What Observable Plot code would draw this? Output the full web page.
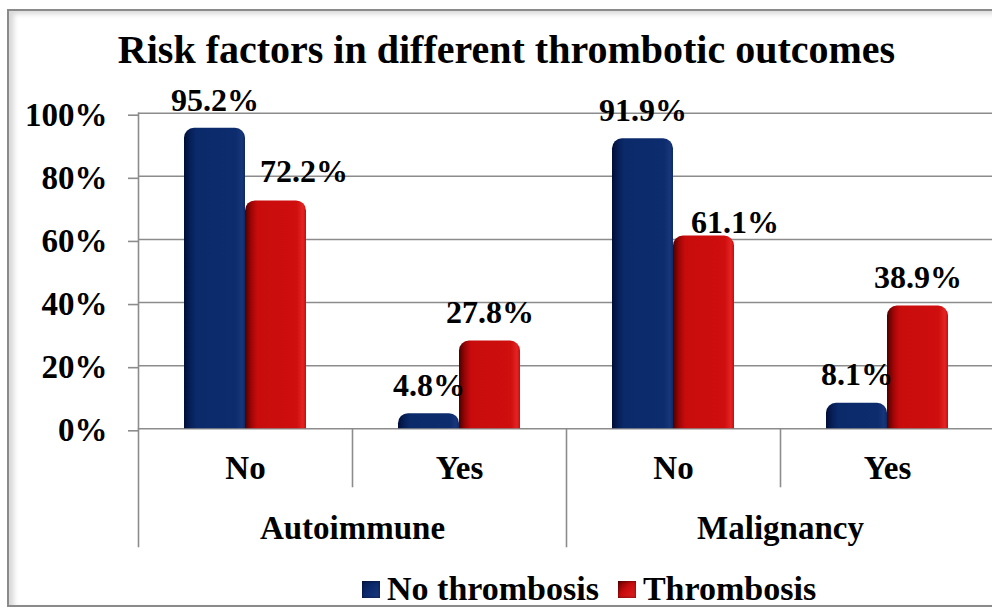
<!DOCTYPE html>
<html><head><meta charset="utf-8">
<script src="https://cdn.jsdelivr.net/npm/d3@7"></script>
<script src="https://cdn.jsdelivr.net/npm/@observablehq/plot@0.6"></script>
<style>
html,body{margin:0;padding:0;background:#fff;}
body{width:992px;height:609px;position:relative;overflow:hidden;font-family:"Liberation Serif",serif;font-weight:bold;color:#000;}
#frame{position:absolute;left:7px;top:9px;width:1010px;height:594px;border:2px solid #8a8a8a;box-shadow:inset 5px 3px 5px rgba(0,0,0,0.15);}
#title{position:absolute;top:30px;left:0;width:1013px;text-align:center;font-size:40px;line-height:40px;white-space:nowrap;}
#chart{position:absolute;left:0;top:80px;}
#legend{position:absolute;left:362px;top:572px;display:flex;align-items:center;font-size:34px;line-height:34px;white-space:nowrap;}
.sw{width:18px;height:17px;display:inline-block;margin-right:7px;}
.sw.b{background:linear-gradient(135deg,#021a4f 0%,#0c2a6b 45%,#1b3a80 100%);box-shadow:inset 0 0 3px rgba(0,0,0,0.6);}
.sw.r{background:linear-gradient(135deg,#6a0000 0%,#c80c0c 45%,#e02222 100%);box-shadow:inset 0 0 3px rgba(0,0,0,0.6);}
</style></head><body>
<div id="frame"></div>
<div id="title">Risk factors in different thrombotic outcomes</div>
<div id="chart"></div>
<div id="legend"><span class="sw b"></span><span style="margin-right:19px">No thrombosis</span><span class="sw r"></span><span>Thrombosis</span></div>
<script>
const groups = ["Autoimmune", "Autoimmune", "Malignancy", "Malignancy"];
const answers = ["No", "Yes", "No", "Yes"];
const seriesNames = ["No thrombosis", "Thrombosis"];
const noThrombosis = [95.2, 4.8, 91.9, 8.1];
const thrombosis = [72.2, 27.8, 61.1, 38.9];
const yTicks = [0, 20, 40, 60, 80, 100];

const slots = groups.map((g, i) => g + "|" + answers[i]);
const data = slots.flatMap((s, i) => [
  {slot: s, group: groups[i], answer: answers[i], series: seriesNames[0], value: noThrombosis[i]},
  {slot: s, group: groups[i], answer: answers[i], series: seriesNames[1], value: thrombosis[i]}
]);

const W = 992, H = 480, mL = 138, mR = -2, mT = 32.7, mB = 131.7;
const step = (W - mL - mR) / slots.length;
const grey = "#8c8c8c";
const isSpecial = d => d.answer === "No" && d.series === "Thrombosis";
const groupStarts = slots.filter((s, i) => answers[i] === "No");
const innerStarts = slots.filter((s, i) => answers[i] !== "No");

const chart = Plot.plot({
  width: W, height: H,
  marginLeft: mL, marginRight: mR, marginTop: mT, marginBottom: mB,
  style: {fontFamily: "Liberation Serif, serif", fontWeight: "bold", fontSize: "33px", color: "#000", background: "transparent", overflow: "visible"},
  fx: {domain: slots, padding: 0, axis: null},
  x: {domain: seriesNames, paddingInner: 0, paddingOuter: 0.754, axis: null},
  y: {domain: [0, 100], axis: null},
  color: {type: "ordinal", domain: seriesNames, range: ["url(#gblue)", "url(#gred)"]},
  marks: [
    Plot.ruleY(yTicks, {stroke: grey, strokeWidth: 1.6}),
    Plot.axisY({ticks: yTicks, label: null, tickSize: 10, tickPadding: 21, tickFormat: d => d + "%", stroke: grey, strokeWidth: 1.6, fontSize: 33, dy: 2}),
    Plot.frame({anchor: "left", facet: "super", stroke: grey, strokeWidth: 1.6}),
    Plot.barY(data, {fx: "slot", x: "series", y: "value", fill: "series", ry1: 10}),
    Plot.axisFx({anchor: "bottom", label: null, ticks: groupStarts, tickSize: 119, tickFormat: () => "", dx: -step / 2, stroke: grey, strokeWidth: 1.6}),
    Plot.axisFx({anchor: "bottom", label: null, ticks: innerStarts, tickSize: 59, tickFormat: () => "", dx: -step / 2, stroke: grey, strokeWidth: 1.6}),
    Plot.axisFx({anchor: "bottom", label: null, tickSize: 0, tickPadding: 27, tickFormat: d => d.split("|")[1], fontSize: 33}),
    Plot.text(groupStarts, {fx: d => d, text: d => d.split("|")[0], frameAnchor: "bottom-right", textAnchor: "middle", lineAnchor: "middle", dy: 99.5, fontSize: 33}),
    Plot.text(data, {filter: d => !isSpecial(d), fx: "slot", x: "series", y: "value", text: d => d.value.toFixed(1) + "%", dy: -28, fontSize: 32}),
    Plot.text(data, {filter: d => isSpecial(d) && d.group === "Autoimmune", fx: "slot", x: "series", y: "value", text: d => d.value.toFixed(1) + "%", dx: 28, dy: -29, fontSize: 32}),
    Plot.text(data, {filter: d => isSpecial(d) && d.group === "Malignancy", fx: "slot", x: "series", y: "value", text: d => d.value.toFixed(1) + "%", dx: 31, dy: -13, fontSize: 32})
  ]
});

const defs = d3.select(chart).insert("defs", ":first-child");
function grad(id, stops) {
  const g = defs.append("linearGradient").attr("id", id).attr("x1", 0).attr("x2", 1).attr("y1", 0).attr("y2", 0);
  stops.forEach(([o, c]) => g.append("stop").attr("offset", o).attr("stop-color", c));
}
grad("gblue", [[0, "#000d38"], [0.1, "#061f57"], [0.2, "#0b2a6a"], [0.85, "#0d2c6e"], [0.95, "#17367a"], [1, "#0e2a66"]]);
grad("gred", [[0, "#4a0000"], [0.1, "#9e0505"], [0.2, "#c80c0c"], [0.85, "#cf0e0e"], [0.95, "#e42424"], [1, "#c80c0c"]]);
document.getElementById("chart").appendChild(chart);
</script>
</body></html>
